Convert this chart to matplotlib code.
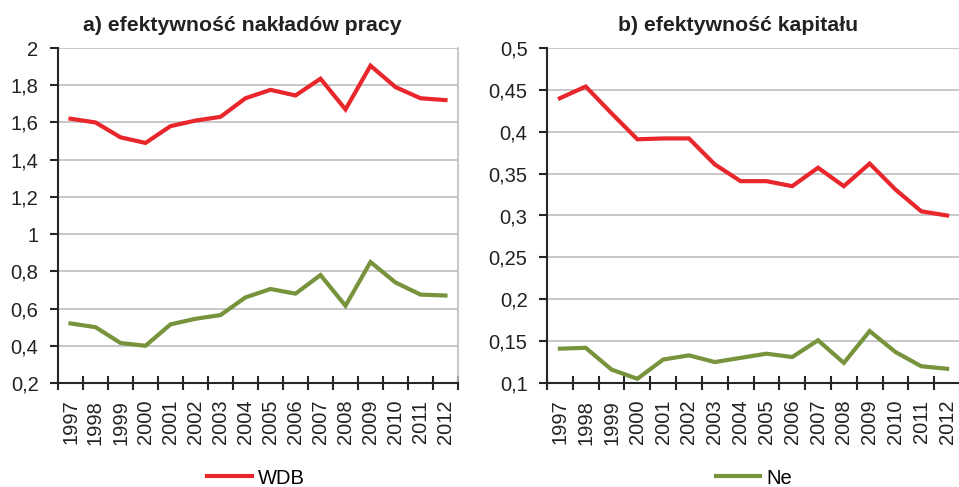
import matplotlib.pyplot as plt
from matplotlib.ticker import FuncFormatter

plt.rcParams['font.family'] = ['Liberation Sans', 'DejaVu Sans']

years = [str(y) for y in range(1997, 2013)]

# a) labour efficiency
praca_wdb = [1.62, 1.60, 1.52, 1.49, 1.58, 1.61, 1.63, 1.73, 1.775, 1.745,
             1.835, 1.67, 1.905, 1.79, 1.73, 1.72]
praca_ne = [0.52, 0.50, 0.415, 0.40, 0.515, 0.545, 0.565, 0.66, 0.705, 0.68,
            0.78, 0.615, 0.85, 0.74, 0.675, 0.67]

# b) capital efficiency
kap_wdb = [0.44, 0.454, 0.422, 0.391, 0.392, 0.392, 0.361, 0.341, 0.341,
           0.335, 0.357, 0.335, 0.362, 0.331, 0.305, 0.300]
kap_ne = [0.141, 0.142, 0.116, 0.105, 0.128, 0.133, 0.125, 0.130, 0.135,
          0.131, 0.151, 0.124, 0.162, 0.137, 0.120, 0.117]

RED = '#E8262B'
GREEN = '#77933C'
GRID = '#BFBFBF'
DARK = '#262626'


def comma(v, pos):
    s = ('%.2f' % v).rstrip('0').rstrip('.')
    return s.replace('.', ',')


fig = plt.figure(figsize=(9.59, 4.87), dpi=100)
W, H = 959, 487
ax1 = fig.add_axes([58 / W, 1 - 383 / H, 400 / W, 335 / H])
ax2 = fig.add_axes([547 / W, 1 - 383 / H, 413 / W, 335 / H])

panels = [
    (ax1, praca_wdb, praca_ne, 'a) efektywność nakładów pracy',
     (0.2, 2.0), [0.2 + 0.2 * i for i in range(10)]),
    (ax2, kap_wdb, kap_ne, 'b) efektywność kapitału',
     (0.1, 0.5), [0.1 + 0.05 * i for i in range(9)]),
]

x = list(range(len(years)))
for ax, wdb, ne, title, ylim, yticks in panels:
    ax.plot(x, wdb, color=RED, lw=3, solid_joinstyle='miter')
    ax.plot(x, ne, color=GREEN, lw=3, solid_joinstyle='miter')
    ax.set_xlim(-0.5, len(years) - 0.5)
    ax.set_ylim(*ylim)
    ax.set_yticks(yticks)
    ax.yaxis.set_major_formatter(FuncFormatter(comma))
    # tick marks between categories, labels at category centres
    ax.set_xticks([i - 0.5 for i in range(len(years) + 1)])
    ax.set_xticklabels([])
    ax.set_xticks(x, minor=True)
    ax.set_xticklabels(years, minor=True, rotation=90, fontsize=14.5)
    ax.tick_params(axis='x', which='minor', length=0, pad=12)
    ax.tick_params(axis='x', which='major', direction='inout', length=10,
                   width=1.5, color=DARK)
    ax.tick_params(axis='y', length=6, width=1.5, color=DARK,
                   labelsize=14.5, pad=8, labelcolor='#222222')
    ax.tick_params(axis='x', which='minor', labelcolor='#222222')
    ax.grid(axis='y', color=GRID, lw=1.2)
    ax.set_axisbelow(True)
    for s in ['left', 'bottom']:
        ax.spines[s].set_color(DARK)
        ax.spines[s].set_linewidth(1.5)
    ax.spines['top'].set_visible(False)
    ax.spines['right'].set_color(GRID)
    ax.spines['right'].set_linewidth(1.2)
    ax.set_title(title, fontsize=15.3, fontweight='bold', pad=12,
                 color='#222222', x=0.462)

ax2.spines['right'].set_visible(False)

fig.legend(handles=[ax1.lines[0]], labels=['WDB'], loc='center',
           bbox_to_anchor=(256 / W, 1 - 478 / H), frameon=False,
           fontsize=14.5, handlelength=2.2, handletextpad=0.3)
fig.legend(handles=[ax2.lines[1]], labels=['Ne'], loc='center',
           bbox_to_anchor=(754 / W, 1 - 478 / H), frameon=False,
           fontsize=14.5, handlelength=2.2, handletextpad=0.3)

fig.savefig('out.png', dpi=100)
